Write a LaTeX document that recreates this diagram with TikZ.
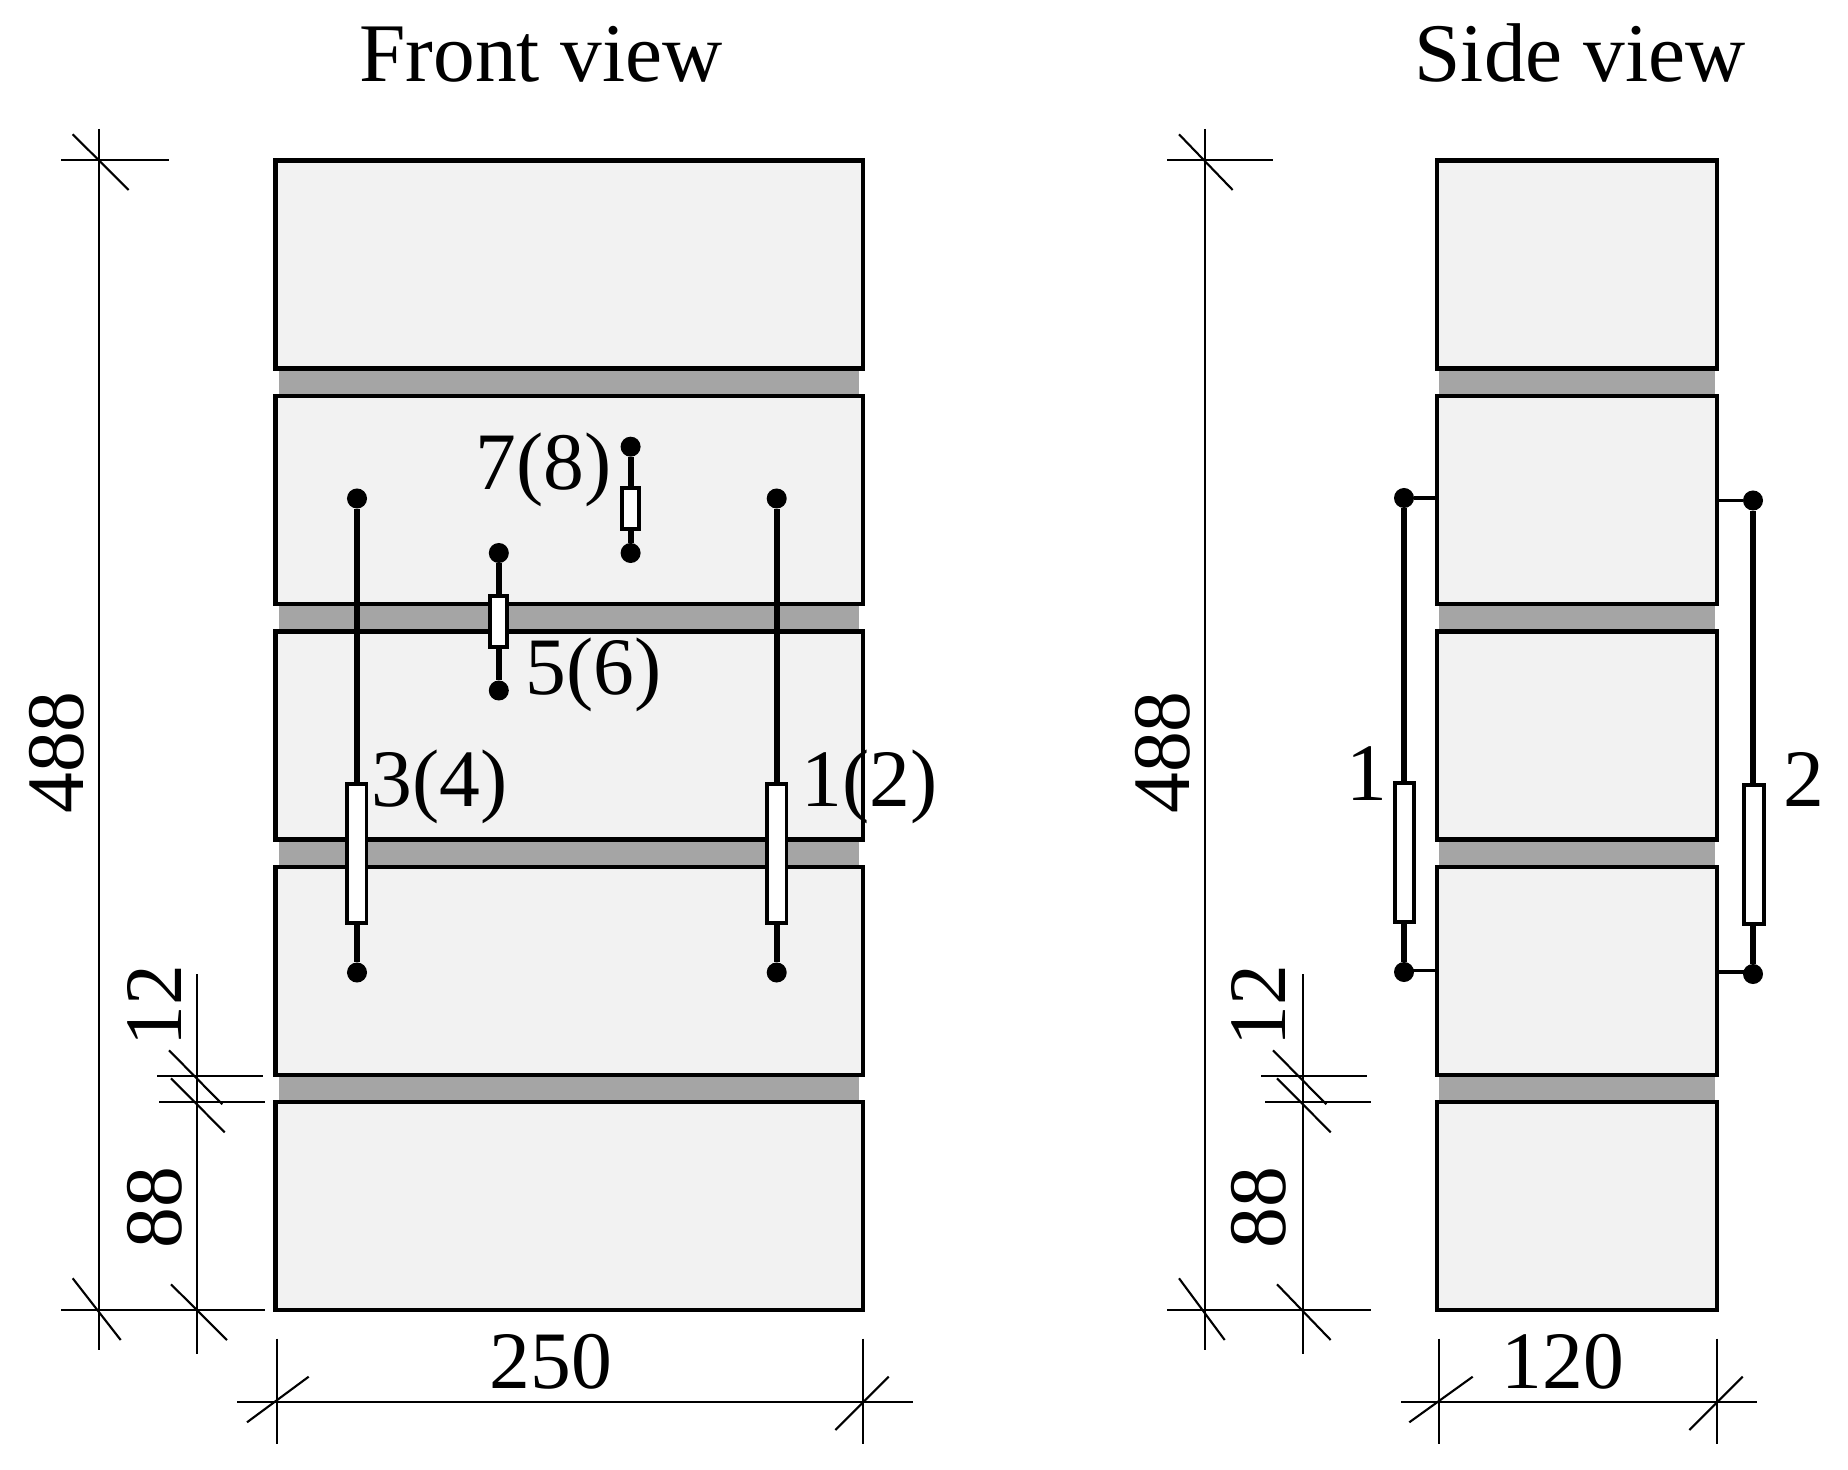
\documentclass[tikz,border=0pt]{standalone}
\usepackage{fontspec}
\setmainfont{Liberation Serif}
\usepackage{tikz}
\definecolor{blockfill}{HTML}{F2F2F2}
\definecolor{bandfill}{HTML}{A5A5A5}
\tikzset{
  block/.style={draw=black, fill=blockfill, line width=1.25pt},
  band/.style={fill=bandfill, draw=none},
  dimline/.style={black, line width=0.6pt},
  rod/.style={black, line width=1.7pt},
  arm/.style={black, line width=1pt},
  gaugedot/.style={circle, fill=black, inner sep=0pt, outer sep=0pt, minimum size=0.2cm},
  gaugebox/.style={rectangle, draw=black, fill=white, line width=1.1pt, inner sep=0pt, minimum width=0.195cm},
  longbox/.style={gaugebox, minimum height=1.39cm},
  midbox/.style={gaugebox, minimum height=0.517cm, minimum width=0.175cm},
  shortbox/.style={gaugebox, minimum height=0.417cm, minimum width=0.17cm},
  lab/.style={inner sep=0pt, anchor=base, font=\fontsize{23.2pt}{26pt}\selectfont},
  titlelab/.style={lab, font=\fontsize{23.7pt}{26pt}\selectfont},
  labw/.style={lab, anchor=base west},
  labv/.style={lab, rotate=90}
}
\begin{document}
\begin{tikzpicture}[x=0.01cm,y=-0.01cm]
\useasboundingbox (0,0) rectangle (1848,1470);

% titles
\node[titlelab] (front) at (541,82) {Front view};
\node[titlelab] (side) at (1580,82) {Side view};

% mortar joints
\foreach \y in {368.5,604,839.5,1074.5}{
  \fill[band] (279,\y) rectangle (859,\y+28);
  \fill[band] (1439,\y) rectangle (1715,\y+28);
}

% bricks
\foreach \y in {160.5,396,631.5,866.8,1102.2}{
  \draw[block] (275.3,\y) rectangle (862.7,\y+208);
  \draw[block] (1437,\y) rectangle (1717,\y+208);
}

% front view gauges
\node[gaugedot] (g3t) at (357,498.5) {};
\node[gaugedot] (g3b) at (357,972.5) {};
\node[gaugedot] (g1t) at (776.7,498.5) {};
\node[gaugedot] (g1b) at (776.7,972.5) {};
\node[gaugedot] (g5t) at (498.8,553) {};
\node[gaugedot] (g5b) at (498.8,690.5) {};
\node[gaugedot] (g7t) at (630.6,446.7) {};
\node[gaugedot] (g7b) at (630.6,553) {};
\draw[rod] (g3t) -- (g3b);
\draw[rod] (g1t) -- (g1b);
\draw[rod] (g5t) -- (g5b);
\draw[rod] (g7t) -- (g7b);
\node[longbox] (b3) at (356.8,853.5) {};
\node[longbox] (b1) at (776.8,853.5) {};
\node[midbox] (b5) at (498.5,621.5) {};
\node[shortbox] (b7) at (630.5,508.5) {};

% side view gauges
\node[gaugedot] (s1t) at (1404,498) {};
\node[gaugedot] (s1b) at (1404,972) {};
\node[gaugedot] (s2t) at (1753,500.5) {};
\node[gaugedot] (s2b) at (1753,974) {};
\coordinate (a1t) at (1437,498);
\coordinate (a1b) at (1437,970.5);
\coordinate (a2t) at (1717,500.5);
\coordinate (a2b) at (1717,972);
\draw[arm] (s1t) -- (a1t);
\draw[arm] (a1b -| s1b) -- (a1b);
\draw[arm] (s2t) -- (a2t);
\draw[arm] (a2b) -- (a2b -| s2b);
\draw[rod] (s1t) -- (s1b);
\draw[rod] (s2t) -- (s2b);
\node[longbox] (b1s) at (1404.5,852.5) {};
\node[longbox] (b2s) at (1754,854.5) {};

% gauge labels
\node[labw] (l7) at (475,490) {7(8)};
\node[labw] (l5) at (525,694) {5(6)};
\node[labw] (l3) at (371,806) {3(4)};
\node[labw] (l1) at (801,806) {1(2)};
\node[labw] (l1s) at (1346,800) {1};
\node[labw] (l2s) at (1783,806.5) {2};

% dimensions, front view
\draw[dimline] (99,129) -- (99,1350);
\draw[dimline] (61,160.3) -- (169,160.3);
\draw[dimline] (72.7,134.3) -- (128.7,190);
\draw[dimline] (61,1310.3) -- (168,1310.3);
\draw[dimline] (72.7,1278.3) -- (120.7,1340);
\draw[dimline] (197,974) -- (197,1354);
\draw[dimline] (157,1076.3) -- (263,1076.3);
\draw[dimline] (169,1050.3) -- (222.3,1104.3);
\draw[dimline] (159,1102.3) -- (265,1102.3);
\draw[dimline] (171,1078.3) -- (224.7,1132.3);
\draw[dimline] (159,1310.3) -- (265,1310.3);
\draw[dimline] (171,1284.3) -- (227,1340);
\draw[dimline] (237,1402.3) -- (913,1402.3);
\draw[dimline] (277,1338.7) -- (277,1444.3);
\draw[dimline] (247,1422.3) -- (308.7,1376.7);
\draw[dimline] (862.7,1338.7) -- (862.7,1444.3);
\draw[dimline] (835.3,1430) -- (888.7,1376.7);

% dimensions, side view
\draw[dimline] (1205,129) -- (1205,1350);
\draw[dimline] (1167,160.3) -- (1273,160.3);
\draw[dimline] (1179,134.3) -- (1232.7,190);
\draw[dimline] (1167,1310.3) -- (1273,1310.3);
\draw[dimline] (1179,1278.3) -- (1224.7,1340);
\draw[dimline] (1303,974) -- (1303,1354);
\draw[dimline] (1261,1076.3) -- (1367,1076.3);
\draw[dimline] (1273,1050.3) -- (1326.3,1104.3);
\draw[dimline] (1265,1102.3) -- (1371,1102.3);
\draw[dimline] (1277,1078.3) -- (1330.7,1132.3);
\draw[dimline] (1265,1310.3) -- (1371,1310.3);
\draw[dimline] (1277,1284.3) -- (1330.7,1340);
\draw[dimline] (1401,1402.3) -- (1757,1402.3);
\draw[dimline] (1439,1338.7) -- (1439,1444.3);
\draw[dimline] (1409.3,1422.3) -- (1472.7,1376.7);
\draw[dimline] (1717,1338.7) -- (1717,1444.3);
\draw[dimline] (1689.3,1430) -- (1742.7,1376.7);

% dimension labels
\node[labv] (d488f) at (83,752.5) {488};
\node[labv] (d12f) at (181,1005.5) {12};
\node[labv] (d88f) at (181,1207.5) {88};
\node[lab] (d250) at (551,1388) {250};
\node[labv] (d488s) at (1189,752.5) {488};
\node[labv] (d12s) at (1285,1005.5) {12};
\node[labv] (d88s) at (1285,1207.5) {88};
\node[lab] (d120) at (1563,1388) {120};
\end{tikzpicture}
\end{document}
